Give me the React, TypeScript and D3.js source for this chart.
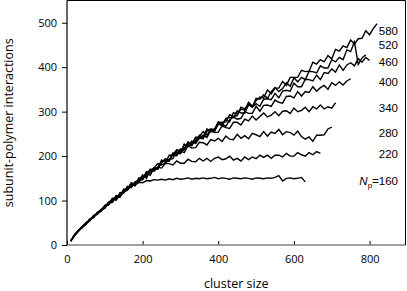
import React, { useEffect, useRef } from "react";
import * as d3 from "d3";

// cluster size sampled every STEP units, first point at STEP
const STEP = 10;

const np580 = [9, 23, 31, 42, 47, 57, 62, 73, 78, 83, 97, 98, 111, 107, 123, 125, 140, 135, 144, 158, 150, 168, 172, 172, 191, 186, 189, 206, 209, 205, 227, 222, 226, 242, 240, 239, 258, 261, 258, 277, 272, 283, 277, 298, 295, 306, 303, 321, 312, 325, 333, 331, 349, 340, 353, 353, 368, 359, 377, 377, 377, 393, 390, 391, 411, 407, 417, 412, 426, 419, 440, 436, 448, 444, 461, 452, 464, 465, 482, 473, 487, 498];
const np520 = [10, 21, 32, 41, 50, 54, 65, 71, 76, 89, 90, 105, 105, 109, 126, 124, 136, 133, 151, 151, 162, 157, 173, 183, 180, 184, 202, 202, 201, 216, 216, 232, 225, 235, 247, 240, 256, 260, 256, 275, 276, 277, 293, 289, 291, 310, 306, 317, 310, 330, 328, 338, 330, 345, 354, 345, 352, 365, 357, 376, 367, 377, 372, 391, 390, 387, 403, 398, 398, 417, 412, 422, 417, 439, 435, 457, 406, 421, 428];
const np460 = [8, 22, 33, 39, 49, 56, 62, 72, 80, 83, 95, 104, 101, 114, 118, 132, 129, 142, 145, 147, 165, 162, 174, 171, 185, 194, 192, 194, 213, 213, 214, 231, 229, 231, 244, 255, 247, 260, 261, 275, 267, 285, 287, 286, 302, 297, 297, 315, 310, 318, 312, 328, 329, 327, 341, 331, 346, 348, 346, 364, 356, 356, 373, 372, 369, 382, 372, 388, 386, 396, 389, 405, 393, 405, 410, 403, 419, 411, 422, 415];
const np400 = [9, 23, 31, 40, 50, 55, 65, 69, 79, 88, 91, 103, 102, 118, 119, 123, 139, 137, 150, 147, 159, 170, 167, 175, 188, 192, 189, 203, 214, 207, 217, 228, 223, 242, 243, 243, 261, 254, 256, 271, 272, 267, 282, 288, 283, 285, 300, 296, 296, 312, 301, 314, 315, 312, 326, 321, 319, 334, 335, 331, 345, 335, 345, 343, 356, 346, 354, 359, 350, 365, 359, 367, 360, 369, 374];
const np340 = [10, 21, 33, 40, 46, 58, 64, 72, 76, 89, 94, 96, 110, 112, 117, 131, 131, 141, 141, 156, 155, 170, 170, 172, 187, 191, 189, 206, 205, 208, 225, 221, 234, 228, 240, 247, 242, 258, 253, 254, 268, 264, 262, 276, 276, 270, 283, 279, 290, 281, 289, 297, 288, 292, 300, 291, 301, 302, 296, 308, 300, 303, 310, 300, 311, 306, 315, 306, 311, 308, 320];
const np280 = [9, 23, 32, 39, 49, 58, 62, 72, 78, 83, 96, 98, 110, 109, 122, 125, 138, 136, 144, 156, 153, 167, 173, 171, 188, 188, 191, 206, 202, 211, 208, 224, 218, 219, 231, 230, 225, 237, 234, 240, 233, 245, 238, 237, 249, 240, 246, 239, 251, 248, 244, 255, 245, 254, 251, 260, 248, 255, 253, 247, 256, 244, 238, 243, 233, 247, 247, 248, 261, 265];
const np220 = [10, 22, 31, 41, 48, 55, 66, 70, 79, 84, 95, 97, 109, 112, 118, 130, 130, 141, 142, 155, 156, 168, 166, 175, 173, 183, 183, 180, 189, 184, 184, 193, 188, 187, 195, 189, 195, 188, 195, 198, 192, 194, 200, 191, 195, 189, 198, 192, 198, 194, 202, 197, 202, 195, 202, 202, 198, 206, 200, 200, 208, 203, 200, 208, 203, 210, 206];
const np160 = [9, 22, 33, 40, 47, 57, 63, 72, 79, 85, 95, 99, 108, 111, 122, 124, 134, 135, 141, 140, 145, 144, 147, 146, 148, 146, 149, 147, 150, 148, 149, 151, 148, 150, 149, 151, 149, 150, 152, 149, 151, 150, 148, 151, 150, 149, 151, 150, 148, 151, 150, 149, 151, 150, 152, 156, 144, 150, 151, 149, 150, 152, 142];

const seriesList = [np580, np520, np460, np400, np340, np280, np220, np160];
const seriesLabels = ["580", "520", "460", "400", "340", "280", "220", "160"];

const xTicks = [0, 200, 400, 600, 800];
const yTicks = [0, 100, 200, 300, 400, 500];

export default function App() {
  const ref = useRef<SVGSVGElement>(null);

  useEffect(() => {
    const width = 407;
    const height = 291;
    const margin = { top: 0.5, right: 1.5, bottom: 46, left: 67 };
    const font = "'Open Sans', sans-serif";
    const labelFont = "'Liberation Sans', Arial, sans-serif";

    const svg = d3.select(ref.current).attr("width", width).attr("height", height);
    svg.selectAll("*").remove();

    const x = d3.scaleLinear().domain([0, 895]).range([margin.left, width - margin.right]);
    const y = d3.scaleLinear().domain([0, 550]).range([height - margin.bottom, margin.top]);

    // curves
    const line = d3
      .line<number>()
      .x((d, i) => x((i + 1) * STEP))
      .y((d) => y(d));

    svg
      .append("g")
      .selectAll("path")
      .data(seriesList)
      .join("path")
      .attr("d", (d) => line(d))
      .attr("fill", "none")
      .attr("stroke", "#000")
      .attr("stroke-width", 1.4)
      .attr("stroke-linejoin", "miter");

    // axes
    const xAxis = svg
      .append("g")
      .attr("transform", `translate(0,${y(0)})`)
      .call(d3.axisBottom(x).tickValues(xTicks).tickSizeInner(-4).tickSizeOuter(0).tickPadding(10));
    xAxis.select(".domain").remove();
    xAxis.selectAll("line").attr("stroke", "#000");
    xAxis.selectAll("text").attr("font-family", font).attr("font-size", 11).attr("fill", "#000");

    const yAxis = svg
      .append("g")
      .attr("transform", `translate(${x(0)},0)`)
      .call(d3.axisLeft(y).tickValues(yTicks).tickSizeInner(5).tickSizeOuter(0).tickPadding(5));
    yAxis.select(".domain").remove();
    yAxis.selectAll("line").attr("stroke", "#000");
    yAxis.selectAll("text").attr("font-family", font).attr("font-size", 11).attr("fill", "#000");

    // frame
    const [x0, x1] = x.range();
    const [y0, y1] = y.range();
    svg.append("line").attr("x1", x0).attr("x2", x1).attr("y1", y0).attr("y2", y0).attr("stroke", "#808080").attr("stroke-width", 1.5);
    svg.append("line").attr("x1", x0).attr("x2", x0).attr("y1", y0).attr("y2", y1).attr("stroke", "#000").attr("stroke-width", 1.2);
    svg.append("line").attr("x1", x0).attr("x2", x1).attr("y1", y1).attr("y2", y1).attr("stroke", "#000").attr("stroke-width", 1);
    svg.append("line").attr("x1", x1).attr("x2", x1).attr("y1", y0).attr("y2", y1).attr("stroke", "#000").attr("stroke-width", 1);

    // series labels at the right
    const labelBaselines = [35, 48.5, 66, 86, 112, 137, 158, 185];
    seriesLabels.forEach((lab, i) => {
      const t = svg
        .append("text")
        .attr("x", 398)
        .attr("y", labelBaselines[i])
        .attr("text-anchor", "end")
        .attr("font-family", labelFont)
        .attr("font-size", 11.5)
        .attr("fill", "#000");
      if (i === seriesLabels.length - 1) {
        t.append("tspan").attr("font-style", "italic").text("N");
        t.append("tspan").attr("font-size", 8).attr("dy", 3).text("p");
        t.append("tspan").attr("dy", -3).text("=" + lab);
      } else {
        t.text(lab);
      }
    });

    // axis titles
    svg
      .append("text")
      .attr("x", (x0 + x1) / 2)
      .attr("y", 288)
      .attr("text-anchor", "middle")
      .attr("font-family", font)
      .attr("font-size", 12.5)
      .attr("fill", "#000")
      .text("cluster size");

    svg
      .append("text")
      .attr("transform", `translate(12.5, ${(y0 + y1) / 2}) rotate(-90)`)
      .attr("text-anchor", "middle")
      .attr("font-family", font)
      .attr("font-size", 12.5)
      .attr("fill", "#000")
      .text("subunit-polymer interactions");
  }, []);

  return <svg ref={ref} style={{ position: "absolute", left: 0, top: 0 }} />;
}
